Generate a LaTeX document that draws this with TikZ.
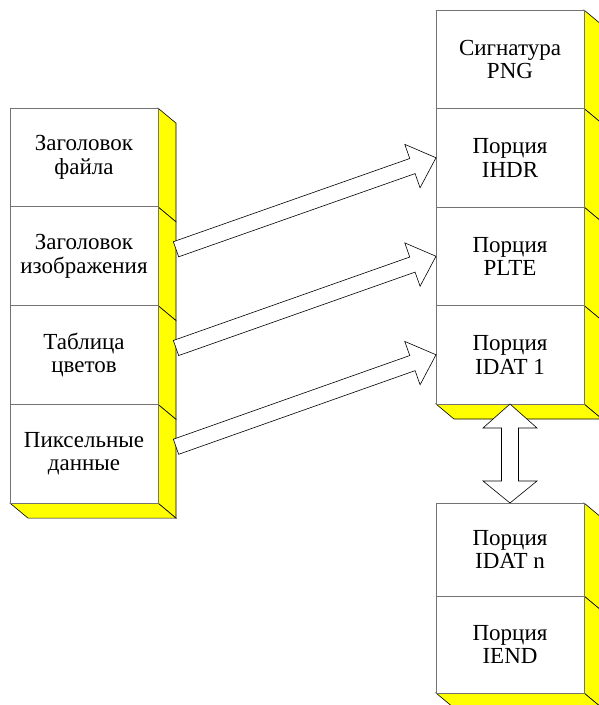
\documentclass[tikz,border=0pt]{standalone}
\usepackage{fontspec}
\setmainfont{Liberation Serif}
\usepackage{tikz}
\usetikzlibrary{calc}
\usetikzlibrary{positioning}
\usetikzlibrary{backgrounds}
\definecolor{faceyellow}{rgb}{1,1,0}
\definecolor{edgegray}{rgb}{0.45,0.45,0.45}

\tikzset{
	block/.style={draw=edgegray, line width=0.8pt, fill=white, outer sep=0pt, inner sep=0pt,
		minimum width=148pt, minimum height=98.75pt, align=center,
		font=\fontsize{23}{23.5}\selectfont},
	face/.style={draw=black, line width=0.6pt, fill=faceyellow, line join=miter},
	hollow/.style={draw=black, line width=0.6pt, fill=white, line join=miter}
}

% hollow arrow from #1 to the tip #2
\newcommand{\blockarrow}[2]{%
	\coordinate (hb) at ($(#2)!25pt!(#1)$);
	\draw[hollow] ($(#1)!8pt!90:(#2)$) -- ($(hb)!8pt!90:(#2)$) -- ($(hb)!23pt!90:(#2)$)
		-- (#2) -- ($(hb)!23pt!-90:(#2)$) -- ($(hb)!8pt!-90:(#2)$) -- ($(#1)!8pt!-90:(#2)$) -- cycle;
}

\begin{document}
\begin{tikzpicture}[x=1pt, y=-1pt]
			\useasboundingbox (0,0) rectangle (598,705);
			
			% BMP
			\node[block] (bmp1) at (84,157.5) {Заголовок\\файла};
			\node[block, below=0pt of bmp1] (bmp2) {Заголовок\\изображения};
			\node[block, below=0pt of bmp2] (bmp3) {Таблица\\цветов};
			\node[block, below=0pt of bmp3] (bmp4) {Пиксельные\\данные};
			
			% PNG
			\node[block, minimum height=98.5pt] (png1) at (510,59.25) {Сигнатура\\PNG};
			\node[block, minimum height=98.5pt, below=0pt of png1] (png2) {Порция\\IHDR};
			\node[block, minimum height=98.5pt, below=0pt of png2] (png3) {Порция\\PLTE};
			\node[block, minimum height=98.5pt, below=0pt of png3] (png4) {Порция\\IDAT 1};
			\node[block, minimum height=93pt] (pngn) at (510,549.5) {Порция\\IDAT n};
			\node[block, minimum height=97pt, below=0pt of pngn] (pnge) {Порция\\IEND};
			
			\begin{scope}[on background layer]
				\foreach \b in {bmp1,bmp2,bmp3,bmp4,png1,png2,png3,png4,pngn,pnge}
				{
					\draw[face] (\b.north east) -- ++(18,15) -- ($(\b.south east)+(18,15)$) -- (\b.south east) -- cycle;
				}
				\foreach \b in {bmp4,png4,pnge}
				{
					\draw[face] (\b.south west) -- ++(18,15) -- ($(\b.south east)+(18,15)$) -- (\b.south east) -- cycle;
				}
			\end{scope}
			
			\coordinate (s2) at ($(bmp2.east)+(18,-7)$);
			\coordinate (s3) at ($(bmp3.east)+(18,-7)$);
			\coordinate (s4) at ($(bmp4.east)+(18,-7)$);
			\blockarrow{s2}{png2.west}
			\blockarrow{s3}{png3.west}
			\blockarrow{s4}{png4.west}
			
			\draw[hollow] (png4.south) -- ++(27,24) -- ++(-18.5,0) -- ($(pngn.north)+(8.5,-22)$) -- ++(18.5,0)
				-- (pngn.north) -- ++(-27,-22) -- ++(18.5,0) -- ($(png4.south)+(-8.5,24)$) -- ++(-18.5,0) -- cycle;
		\end{tikzpicture}
\end{document}
